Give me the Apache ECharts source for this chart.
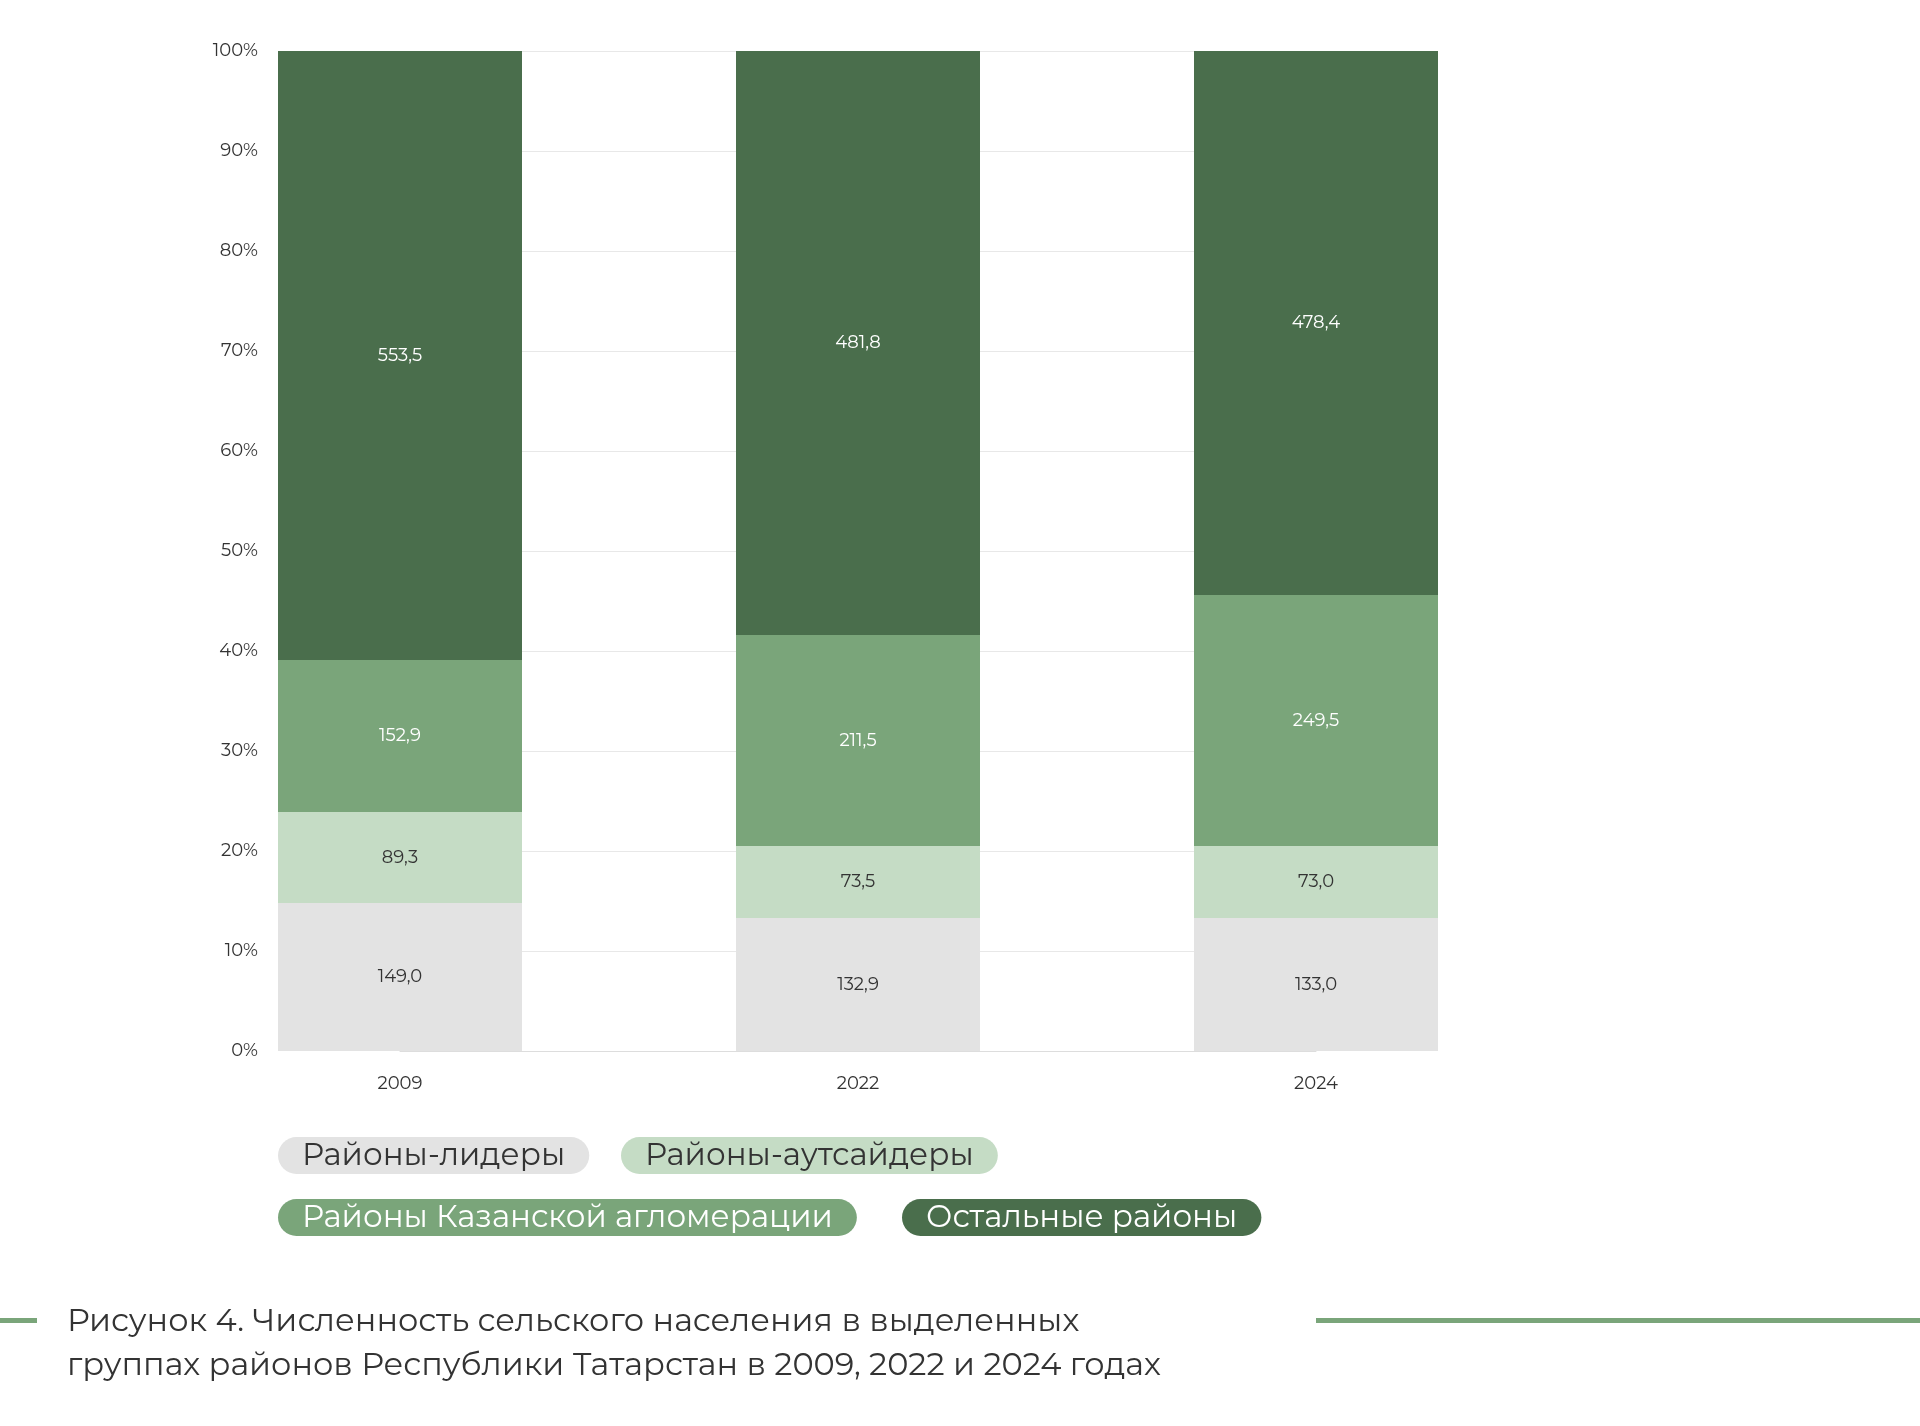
<!DOCTYPE html>
<html><head><meta charset="utf-8">
<script src="https://cdn.jsdelivr.net/npm/echarts@6/dist/echarts.min.js"></script>
<style>html,body{margin:0;background:#fff}#c{width:1920px;height:1426px}</style>
</head><body><div id="c"></div>
<script>
var years = ['2009', '2022', '2024'];
// labelled values, thousand people
var leaders = [149.0, 132.9, 133.0];
var outsiders = [89.3, 73.5, 73.0];
var kazan = [152.9, 211.5, 249.5];
var others = [553.5, 481.8, 478.4];
// shares as drawn in the picture, %
var leadersPct = [14.8, 13.3, 13.3];
var outsidersPct = [9.1, 7.2, 7.2];
var kazanPct = [15.2, 21.1, 25.1];
var othersPct = [60.9, 58.4, 54.4];
var names = ['Районы-лидеры', 'Районы-аутсайдеры', 'Районы Казанской агломерации', 'Остальные районы'];
var colors = ['#e3e3e3', '#c5dcc5', '#7aa57a', '#4a6e4c'];
var textColors = ['#333', '#333', '#fff', '#fff'];
var raw = [leaders, outsiders, kazan, others];
var pct = [leadersPct, outsidersPct, kazanPct, othersPct];
var font = 'Montserrat, "Noto Sans", sans-serif';

var series = raw.map(function (arr, k) {
  return {
    name: names[k], type: 'bar', stack: 'all', barWidth: 244,
    itemStyle: { color: colors[k] },
    data: arr.map(function (v, i) { return { value: pct[k][i], raw: v }; }),
    label: { show: true, color: textColors[k], fontSize: 18, fontFamily: font,
      formatter: function (p) { return p.data.raw.toFixed(1).replace('.', ','); } }
  };
});

var chart = echarts.init(document.getElementById('c'));
var pills = [
  [278, 1137, 0], [621, 1137, 1], [278, 1199, 2], [902, 1199, 3]
].map(function (p) {
  var k = p[2];
  return { type: 'text', left: p[0], top: p[1], style: {
    text: names[k], fill: k < 2 ? '#333' : '#fff', backgroundColor: colors[k],
    font: '31px ' + font, padding: [3, 24, 3, 24], borderRadius: 22 } };
});
chart.setOption({
  animation: false,
  grid: { left: 400, right: 604, top: 51, height: 1000 },
  xAxis: { type: 'category', data: years, boundaryGap: false,
    axisLine: { lineStyle: { color: '#ddd' } }, axisTick: { show: false },
    axisLabel: { color: '#333', fontSize: 18, margin: 24, fontFamily: font } },
  yAxis: { type: 'value', min: 0, max: 100, interval: 10, offset: 122,
    axisLabel: { formatter: '{value}%', color: '#333', fontSize: 18, margin: 20, fontFamily: font },
    splitLine: { lineStyle: { color: '#e8e8e8' } } },
  series: series,
  graphic: pills.concat([
    { type: 'rect', shape: { x: 0, y: 1318, width: 37, height: 5 }, style: { fill: '#7aa57a' } },
    { type: 'rect', shape: { x: 1316, y: 1318, width: 604, height: 5 }, style: { fill: '#7aa57a' } },
    { type: 'text', left: 67, top: 1300, style: { text: 'Рисунок 4. Численность сельского населения в выделенных\nгруппах районов Республики Татарстан в 2009, 2022 и 2024 годах',
      fill: '#333', font: '32px ' + font, lineHeight: 44 } }
  ])
});
</script></body></html>
